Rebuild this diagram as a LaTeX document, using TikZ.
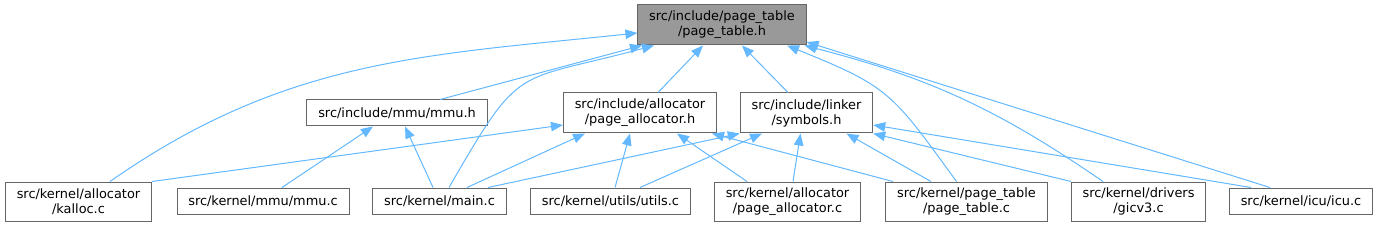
\documentclass[tikz,border=0pt]{standalone}
\usepackage{fontspec}
\setmainfont{DejaVu Sans}
\usetikzlibrary{arrows.meta}

\definecolor{edgeblue}{HTML}{63B8FF}
\definecolor{boxgray}{HTML}{666666}
\definecolor{rootgray}{HTML}{999999}

\begin{document}
\begin{tikzpicture}[
    x=1pt, y=1pt,
    every node/.style={font=\fontsize{12.9}{15}\selectfont},
    file/.style={rectangle, draw=boxgray, line width=1pt, fill=white, inner xsep=11.3pt, inner ysep=0pt, minimum height=26pt, align=center},
    twoline/.style={file, minimum height=39pt},
    arrow/.style={-{Triangle[length=12pt, width=9.5pt]}, draw=edgeblue, line width=1pt}
]
\useasboundingbox (0,0) rectangle (1378,-227);

% Root header
\node[twoline, fill=rootgray, minimum height=40pt] (pagetableh) at (722,-25) {src/include/page\_table\\/page\_table.h};

% Headers including it
\node[file] (mmuh) at (397,-113) {src/include/mmu/mmu.h};
\node[twoline, minimum height=40pt] (pagealloch) at (640,-113) {src/include/allocator\\/page\_allocator.h};
\node[twoline, minimum height=40pt] (symbolsh) at (806.5,-113) {src/include/linker\\/symbols.h};

% Source files
\node[twoline] (kallocc) at (78.5,-201.5) {src/kernel/allocator\\/kalloc.c};
\node[file] (mmuc) at (263,-201) {src/kernel/mmu/mmu.c};
\node[file] (mainc) at (439.5,-201) {src/kernel/main.c};
\node[file] (utilsc) at (610.5,-201) {src/kernel/utils/utils.c};
\node[twoline] (pageallocc) at (787.5,-201.5) {src/kernel/allocator\\/page\_allocator.c};
\node[twoline] (pagetablec) at (966.5,-201.5) {src/kernel/page\_table\\/page\_table.c};
\node[twoline] (gicvc) at (1138.5,-201.5) {src/kernel/drivers\\/gicv3.c};
\node[file] (icuc) at (1301,-201) {src/kernel/icu/icu.c};

% Includes of page_table.h
\draw[arrow] ([xshift=31.5pt]kallocc.north) to[out=35, in=186] ([yshift=-8pt]pagetableh.west);
\draw[arrow] ([xshift=43pt]mmuh.north) -- ([xshift=-80pt]pagetableh.south);
\draw[arrow] ([xshift=9.5pt]mainc.north) to[out=60, in=195, looseness=1.5] ([xshift=-68pt]pagetableh.south);
\draw[arrow] ([xshift=18pt]pagealloch.north) -- ([xshift=-19pt]pagetableh.south);
\draw[arrow] ([xshift=-18.5pt]symbolsh.north) -- ([xshift=20pt]pagetableh.south);
\draw[arrow] ([xshift=-10pt]pagetablec.north) to[out=126, in=-22, looseness=1.3] ([xshift=65pt]pagetableh.south);
\draw[arrow] ([xshift=-35.5pt]gicvc.north) to[bend right=10] ([xshift=-2pt]pagetableh.south east);
\draw[arrow] ([xshift=-31pt]icuc.north) -- ([yshift=-17pt]pagetableh.east);

% Includes of mmu.h
\draw[arrow] ([xshift=19pt]mmuc.north) -- ([xshift=-24pt]mmuh.south);
\draw[arrow] ([xshift=-6.5pt]mainc.north) -- ([xshift=8pt]mmuh.south);

% Includes of page_allocator.h
\draw[arrow] (kallocc.north east) -- ([yshift=-12pt]pagealloch.west);
\draw[arrow] ([xshift=27.5pt]mainc.north) -- ([xshift=-55pt]pagealloch.south);
\draw[arrow] ([xshift=4.5pt]utilsc.north) -- ([xshift=-10pt]pagealloch.south);
\draw[arrow] ([xshift=-40.5pt]pageallocc.north) -- ([xshift=37pt]pagealloch.south);
\draw[arrow] ([xshift=-73.5pt]pagetablec.north) -- ([xshift=72pt]pagealloch.south);

% Includes of symbols.h
\draw[arrow] ([xshift=48.5pt]mainc.north) -- (symbolsh.south west);
\draw[arrow] ([xshift=29.5pt]utilsc.north) -- ([xshift=-44.5pt]symbolsh.south);
\draw[arrow] ([xshift=5.5pt]pageallocc.north) -- ([xshift=-6pt]symbolsh.south);
\draw[arrow] ([xshift=-35.5pt]pagetablec.north) -- ([xshift=40pt]symbolsh.south);
\draw[arrow] ([xshift=-67.5pt]gicvc.north) -- (symbolsh.south east);
\draw[arrow] ([xshift=-50pt]icuc.north) -- ([yshift=-12pt]symbolsh.east);

\end{tikzpicture}
\end{document}
